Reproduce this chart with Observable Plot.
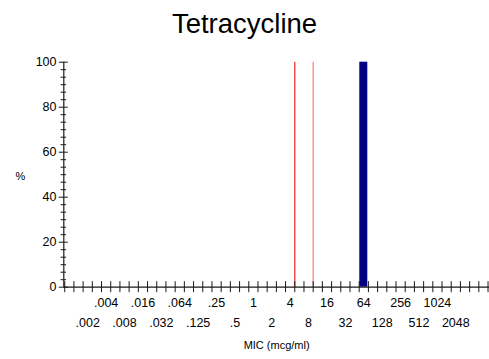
<!DOCTYPE html>
<html><head><meta charset="utf-8">
<script src="https://cdn.jsdelivr.net/npm/d3@7"></script>
<script src="https://cdn.jsdelivr.net/npm/@observablehq/plot@0.6"></script>
<style>
body{margin:0;background:#fff;width:489px;height:359px;overflow:hidden;font-family:"Liberation Sans",Arial,sans-serif}
#title{height:40px;box-sizing:border-box;padding-top:10.4px;font-size:27.5px;line-height:27px;text-align:center;color:#000}
#chart svg{display:block}
</style></head><body>
<div id="title">Tetracycline</div>
<div id="chart"></div>
<script>
// Dilution series (log2 of MIC) and their printed labels
const micLog2 = [-9,-8,-7,-6,-5,-4,-3,-2,-1,0,1,2,3,4,5,6,7,8,9,10,11];
const micLabels = [".002",".004",".008",".016",".032",".064",".125",".25",".5","1","2","4","8","16","32","64","128","256","512","1024","2048"];
// Isolate distribution
const isolateMIC = [64];
const isolatePercent = [100];
// Breakpoints (lines drawn at upper edge of the dilution cell)
const breakpoints = [4, 8];
const breakpointColors = ["#ee3434", "#ff8282"];
// Y ticks
const yMajor = [0, 20, 40, 60, 80, 100];

const labelOf = new Map(micLog2.map((u, i) => [u, micLabels[i]]));
const bars = isolateMIC.map((m, i) => ({u: Math.log2(m), p: isolatePercent[i]}));
const bps = breakpoints.map((b, i) => ({u: Math.log2(b) + 0.25, c: breakpointColors[i]}));

const xDomain = [-10.3, 12.83];
const xTickMarks = d3.range(-10.25, 12.8, 0.5);
const yMinor = d3.range(0, 100.01, 20 / 6).filter(v => Math.abs(v / 20 - Math.round(v / 20)) > 0.01);

const ink = "#1a1a1a";
const chart = Plot.plot({
  width: 489,
  height: 319,
  marginLeft: 63.3,
  marginRight: 0,
  marginTop: 21.7,
  marginBottom: 72.3,
  style: {fontFamily: "'Liberation Sans', Arial, sans-serif", fontSize: "12.5px", background: "transparent", color: "#000", overflow: "visible"},
  x: {type: "linear", domain: xDomain, axis: null},
  y: {domain: [0, 100], axis: null},
  marks: [
    // breakpoint lines
    Plot.ruleX(bps, {x: "u", y1: 0, y2: 100, stroke: "c", strokeWidth: 1.3}),
    // bars
    Plot.rectY(bars, {x1: d => d.u - 0.25, x2: d => d.u + 0.25, y: "p", fill: "#000080", insetLeft: 0.6, insetRight: 0.6}),
    // axis lines
    Plot.ruleY([0], {stroke: ink, strokeWidth: 1.2}),
    Plot.ruleX([xDomain[0]], {y1: 0, y2: 100, stroke: ink, strokeWidth: 1.2}),
    // x ticks crossing axis
    Plot.axisX(xTickMarks, {tickSize: 11, dy: -5.5, tickFormat: () => "", stroke: ink, label: null}),
    // x labels, two staggered rows
    Plot.axisX(micLog2.filter(u => u % 2 === 0), {tickSize: 0, tickPadding: 10.8, tickFormat: u => labelOf.get(u), label: null, fill: "#000"}),
    Plot.axisX(micLog2.filter(u => u % 2 !== 0), {tickSize: 0, tickPadding: 30.8, tickFormat: u => labelOf.get(u), label: null, fill: "#000"}),
    // y major / minor ticks crossing axis
    Plot.axisY(yMajor, {tickSize: 9, dx: 4.5, tickFormat: () => "", stroke: ink, label: null}),
    Plot.axisY(yMinor, {tickSize: 5.5, dx: 2.75, tickFormat: () => "", stroke: ink, label: null}),
    Plot.axisY(yMajor, {tickSize: 0, tickPadding: 7.3, label: null, fill: "#000"}),
    // axis titles
    Plot.text(["MIC (mcg/ml)"], {frameAnchor: "bottom", dy: 58.3, lineAnchor: "middle", fontSize: 11, fill: "#000"}),
    Plot.text(["%"], {frameAnchor: "top-left", dx: -48.3, dy: 114.3, lineAnchor: "middle", fontSize: 11, fill: "#000"})
  ]
});
document.getElementById("chart").appendChild(chart);
</script>
</body></html>
